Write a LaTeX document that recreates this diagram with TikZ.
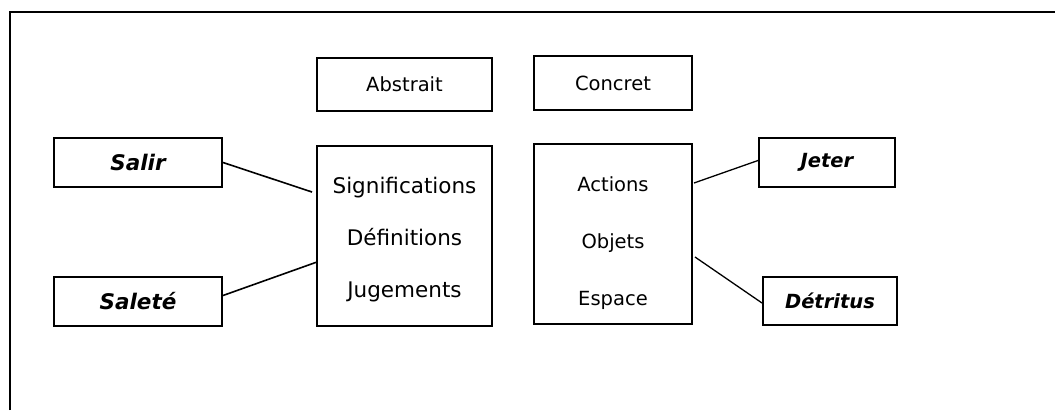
\documentclass[tikz,border=0pt]{standalone}
\usepackage{fontspec}
\setmainfont{DejaVu Sans}

\begin{document}
\begin{tikzpicture}[
    x=1pt,y=-1pt,
    box/.style={draw=black,line width=2pt,inner sep=0pt},
    big/.style={font=\fontsize{21.5}{25}\selectfont},
    small/.style={font=\fontsize{19.5}{23}\selectfont},
    word/.style={font=\fontsize{21.5}{25}\selectfont\bfseries\itshape},
    smallword/.style={font=\fontsize{19.5}{23}\selectfont\bfseries\itshape},
    link/.style={draw=black,line width=1.6pt},
]
    \useasboundingbox (0,0) rectangle (1055,410);
    \draw[line width=2pt] (10,410) -- (10,12) -- (1055,12);

    \node[box,small,minimum width=175pt,minimum height=53pt] (abstrait) at (404.5,84.5) {Abstrait};
    \node[box,small,minimum width=158pt,minimum height=54pt] (concret) at (613,83) {Concret};

    \node[box,minimum width=175pt,minimum height=180pt] (abs) at (404.5,236) {};
    \node[align=center,font=\fontsize{21.5}{52}\selectfont] (abslist) at (404.5,240)
        {Significations\\Définitions\\Jugements};
    \node[box,minimum width=158pt,minimum height=180pt] (conc) at (613,234) {};
    \node[align=center,font=\fontsize{19.5}{57}\selectfont] (conclist) at (613,243)
        {Actions\\Objets\\Espace};

    \node[box,word,minimum width=168pt,minimum height=49pt] (salir) at (138,162.5) {Salir};
    \node[box,word,minimum width=168pt,minimum height=49pt] (salete) at (138,301.5) {Saleté};
    \node[box,smallword,minimum width=136pt,minimum height=49pt] (jeter) at (827,162.5) {Jeter};
    \node[box,smallword,minimum width=134pt,minimum height=48pt] (detritus) at (830,301) {Détritus};

    \draw[link] (salir.east) -- ([shift={(-4,-44)}]abs.west);
    \draw[link] ([yshift=6pt]salete.east) -- ([shift={(1,26)}]abs.west);
    \draw[link,line width=1.3pt] ([shift={(1,-51)}]conc.east) -- ([yshift=2pt]jeter.west);
    \draw[link,line width=1.3pt] ([shift={(2,23)}]conc.east) -- ([yshift=-2pt]detritus.west);
\end{tikzpicture}
\end{document}
